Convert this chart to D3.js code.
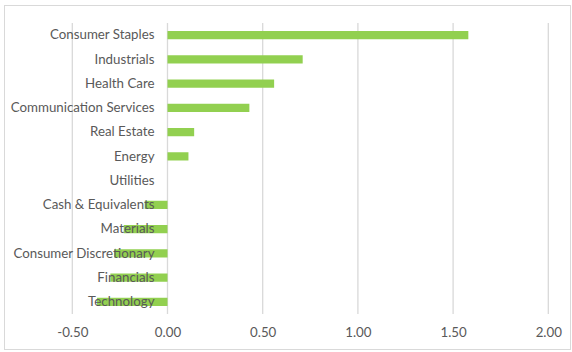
<!DOCTYPE html>
<html><head><meta charset="utf-8">
<script src="https://cdn.jsdelivr.net/npm/d3@7"></script>
<style>body{margin:0;background:#fff;}svg{display:block;}</style>
</head><body>
<svg id="c" width="572" height="352"></svg>
<script>
const categories = ["Consumer Staples","Industrials","Health Care","Communication Services","Real Estate","Energy","Utilities","Cash & Equivalents","Materials","Consumer Discretionary","Financials","Technology"];
const values = [1.58, 0.71, 0.56, 0.43, 0.14, 0.11, 0.00, -0.12, -0.23, -0.28, -0.30, -0.37];
const tickValues = [-0.5, 0, 0.5, 1.0, 1.5, 2.0];

const svg = d3.select("#c");
const font = "Lato, 'Open Sans', sans-serif";
svg.append("rect").attr("x",4.5).attr("y",5.5).attr("width",566).attr("height",344)
  .attr("fill","#fff").attr("stroke","#d9d9d9").attr("stroke-width",1);

const x = d3.scaleLinear().domain([-0.5, 2.0]).range([72.3, 548.3]);
const y = d3.scaleBand().domain(categories).range([23, 314]).paddingInner(0.66).paddingOuter(0.33);

// gridlines
svg.append("g").selectAll("line").data(tickValues).join("line")
  .attr("x1",d=>x(d)).attr("x2",d=>x(d)).attr("y1",23).attr("y2",314)
  .attr("stroke","#d9d9d9").attr("stroke-width",1.3);

// bars
svg.append("g").selectAll("rect").data(values).join("rect")
  .attr("x",d=>x(Math.min(0,d))).attr("width",d=>Math.abs(x(d)-x(0)))
  .attr("y",(d,i)=>y(categories[i])).attr("height",y.bandwidth())
  .attr("fill","#92d050");

// category labels
const yAxis = d3.axisLeft(y).tickSize(0).tickPadding(0);
const gy = svg.append("g").attr("transform","translate(154.5,0)").call(yAxis);
gy.select(".domain").remove();
gy.selectAll("text").attr("fill","#595959").style("font-family",font).style("font-size","13.3px");

// x tick labels
const fmt = d => (d < 0 ? "-" : "") + Math.abs(d).toFixed(2);
const xAxis = d3.axisBottom(x).tickValues(tickValues).tickFormat(fmt).tickSize(0).tickPadding(0);
const gx = svg.append("g").attr("transform","translate(0,328)").call(xAxis);
gx.select(".domain").remove();
gx.selectAll("text").attr("fill","#595959").style("font-family",font).style("font-size","13.3px");
</script>
</body></html>
